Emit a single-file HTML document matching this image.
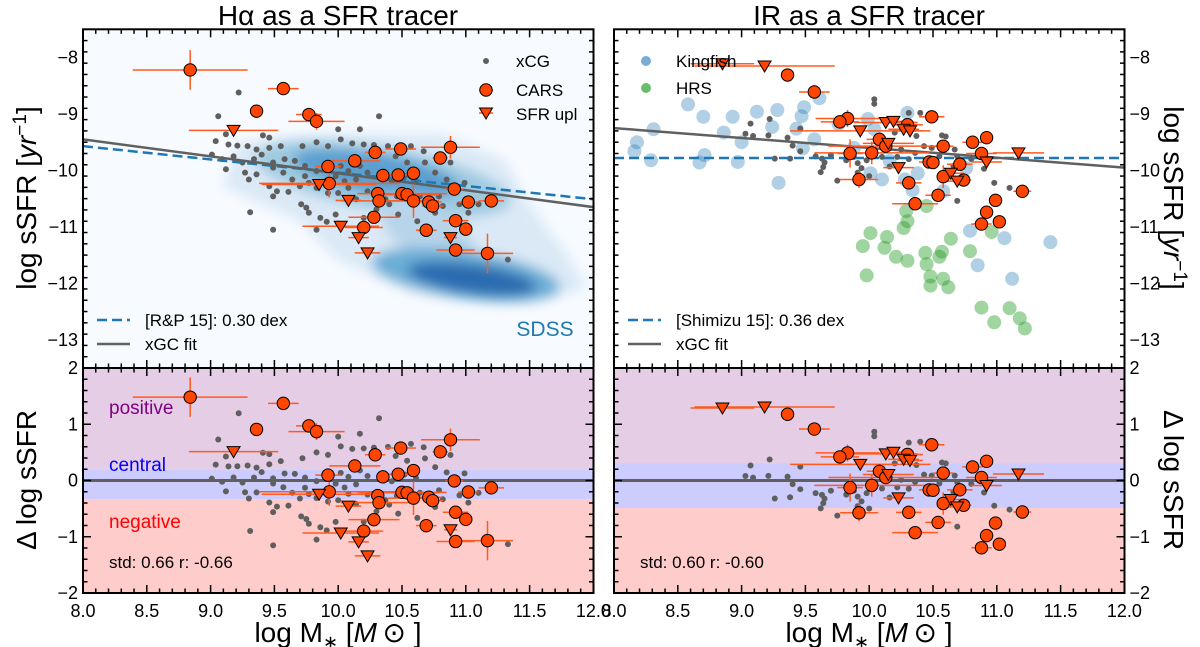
<!DOCTYPE html>
<html><head><meta charset="utf-8"><style>
body{margin:0;background:#fff;}
svg{display:block;font-family:"Liberation Sans","DejaVu Sans",sans-serif;}
</style></head><body>
<svg id="chart" width="1200" height="647" viewBox="0 0 1200 647">
<defs>
<filter id="blur" x="-50%" y="-50%" width="200%" height="200%"><feGaussianBlur stdDeviation="6"/></filter>
<clipPath id="clipTL"><rect x="83" y="29.3" width="510" height="338.7"/></clipPath>
<clipPath id="clipTR"><rect x="614" y="29.3" width="511" height="338.7"/></clipPath>
<clipPath id="clipBL"><rect x="83" y="368" width="510" height="225"/></clipPath>
<clipPath id="clipBR"><rect x="614" y="368" width="511" height="225"/></clipPath>
</defs>
</svg>
<script>
// ---------- data ----------
const xTicks = [8.0, 8.5, 9.0, 9.5, 10.0, 10.5, 11.0, 11.5, 12.0];
const yTicksTop = [-8, -9, -10, -11, -12, -13];
const yTicksBot = [2, 1, 0, -1, -2];
// fits: [value at logM=8, slope]
const fitHa = [-9.45, -0.30];
const refHa = [-9.57, -0.235];
const fitIR = [-9.25, -0.175];
const refIR = [-9.78, 0.0];
const bandHa = [0.2, -0.33];
const bandIR = [0.31, -0.49];
// Halpha CARS detections
const haCarsM = [8.84,9.57,9.36,9.77,9.83,10.88,10.49,10.29,10.80,10.13,9.92,10.59,10.47,10.35,9.93,10.91,10.31,10.50,10.54,10.32,10.59,10.71,10.74,11.02,11.20,10.28,10.92,10.20,11.00,10.69,10.92,11.17];
const haCarsS = [-8.22,-8.55,-8.95,-9.01,-9.13,-9.59,-9.62,-9.68,-9.78,-9.83,-9.93,-10.05,-10.08,-10.09,-10.23,-10.33,-10.41,-10.41,-10.43,-10.54,-10.54,-10.56,-10.63,-10.56,-10.54,-10.83,-10.89,-11.01,-11.04,-11.06,-11.41,-11.47];
const haCarsXe = [0.45,0.12,0.02,0.1,0.22,0.23,0.12,0.08,0.06,0.2,0.1,0.05,0.12,0.05,0.55,0.07,0.05,0.35,0.25,0.3,0.2,0.1,0.08,0.08,0.1,0.2,0.1,0.15,0.03,0.08,0.15,0.2];
const haCarsYe = [0.35,0.05,0.05,0.05,0.15,0.2,0.1,0.05,0.05,0.05,0.1,0.05,0.05,0.05,0.25,0.05,0.05,0.1,0.05,0.05,0.3,0.05,0.1,0.1,0.1,0.05,0.05,0.05,0.05,0.1,0.05,0.35];
const haUplM = [9.18,9.85,10.08,10.02,10.16,10.23,10.88];
const haUplS = [-9.29,-10.25,-10.53,-10.99,-11.19,-11.46,-11.19];
const haUplXe = [0.35,0.45,0.1,0.3,0.08,0.1,0.05];
// Halpha xCG
const haXcgM = [9.22,9.06,10.32,10.00,10.17,9.12,9.41,9.46,9.04,9.14,9.21,9.29,9.36,9.46,9.55,9.72,9.83,9.92,10.02,10.11,10.20,10.28,10.39,10.57,10.67,10.45,10.54,10.68,10.88,9.01,9.09,9.18,9.25,9.34,9.40,9.49,9.58,9.66,9.74,9.83,10.02,10.08,10.17,9.12,9.27,9.36,9.49,9.57,9.64,9.74,9.77,9.98,10.05,10.14,10.23,10.42,10.52,10.61,10.76,10.85,10.99,9.30,9.46,9.52,9.49,9.61,9.70,9.83,9.92,10.00,10.08,10.14,10.23,10.37,10.40,10.46,10.64,10.79,10.82,10.95,11.10,9.71,9.75,9.77,9.86,9.91,9.98,10.00,9.31,9.49,9.83,10.47,10.62,11.02,11.33,10.76,10.30,10.20];
const haXcgS = [-8.62,-9.04,-9.04,-9.27,-9.27,-9.36,-9.38,-9.42,-9.48,-9.54,-9.56,-9.57,-9.63,-9.60,-9.57,-9.57,-9.50,-9.57,-9.45,-9.52,-9.54,-9.55,-9.57,-9.57,-9.66,-9.75,-9.86,-9.86,-9.86,-9.72,-9.80,-9.75,-9.86,-9.80,-9.72,-9.86,-9.80,-9.83,-9.92,-10.01,-9.92,-10.01,-9.92,-9.98,-10.04,-10.07,-9.95,-10.04,-10.16,-10.10,-10.22,-10.10,-10.19,-10.16,-10.04,-10.19,-10.10,-10.19,-10.04,-10.16,-10.22,-10.16,-10.28,-10.37,-10.46,-10.38,-10.28,-10.31,-10.40,-10.40,-10.31,-10.51,-10.37,-10.51,-10.60,-10.46,-10.46,-10.46,-10.63,-10.60,-10.60,-10.60,-10.66,-10.75,-10.84,-10.91,-10.78,-10.94,-10.74,-11.05,-11.05,-10.78,-10.90,-10.75,-11.58,-10.75,-10.69,-10.84];
// IR CARS
const irCarsM = [9.36,9.57,9.83,9.77,10.49,10.30,10.92,10.81,10.08,10.58,10.13,9.85,10.02,10.88,10.47,10.50,10.71,10.58,10.74,9.92,10.31,11.20,10.54,10.99,10.36,10.92,10.88,11.02];
const irCarsS = [-8.31,-8.61,-9.08,-9.14,-9.05,-9.19,-9.42,-9.50,-9.45,-9.57,-9.57,-9.70,-9.69,-9.70,-9.85,-9.86,-9.89,-10.11,-10.17,-10.16,-10.22,-10.37,-10.44,-10.53,-10.59,-10.74,-10.95,-10.91];
const irCarsXe = [0.02,0.12,0.25,0.15,0.1,0.12,0.05,0.08,0.1,0.08,0.45,0.1,0.45,0.12,0.08,0.05,0.1,0.05,0.06,0.15,0.1,0.07,0.1,0.03,0.18,0.05,0.08,0.05];
const irCarsYe = [0.03,0.05,0.15,0.05,0.05,0.05,0.05,0.05,0.1,0.05,0.05,0.25,0.2,0.05,0.1,0.05,0.05,0.2,0.1,0.15,0.05,0.05,0.1,0.05,0.08,0.05,0.05,0.1];
const irUplM = [8.85,9.18,9.93,10.13,10.19,10.27,10.32,10.15,10.23,10.64,10.69,10.92,11.17];
const irUplS = [-8.11,-8.15,-9.30,-9.15,-9.13,-9.27,-9.30,-9.52,-9.95,-10.05,-10.19,-9.85,-9.69];
const irUplXe = [0.25,0.55,0.55,0.25,0.1,0.12,0.1,0.2,0.12,0.1,0.1,0.12,0.2];
const irXcgM = [9.07,9.22,9.03,9.09,9.21,9.36,9.46,9.40,9.26,9.38,9.46,9.58,9.63,9.65,9.64,9.62,9.70,9.75,9.82,9.88,9.91,9.94,9.98,10.04,10.04,10.10,10.16,10.22,10.20,10.31,10.40,10.37,10.43,10.49,10.55,10.57,10.60,10.67,10.69,10.69,10.66,10.80,10.90,10.98,11.10,10.31,10.36,9.91,10.00,10.25];
const irXcgS = [-9.17,-9.09,-9.35,-9.39,-9.38,-9.42,-9.26,-9.56,-9.79,-9.79,-9.66,-9.75,-9.79,-9.86,-9.94,-10.03,-9.73,-10.18,-9.82,-9.76,-9.87,-9.96,-9.82,-8.74,-8.82,-9.76,-9.93,-9.76,-9.33,-8.98,-8.98,-9.39,-9.57,-9.60,-9.75,-9.38,-9.40,-9.63,-9.75,-10.54,-9.92,-9.80,-9.97,-10.22,-10.31,-9.80,-9.69,-10.04,-10.10,-9.63];
const kingM = [8.58,8.70,8.93,9.12,9.28,9.49,9.61,9.47,8.31,8.18,8.16,8.29,8.71,8.67,8.86,9.00,8.97,9.24,9.43,9.57,9.48,9.29,9.76,9.99,10.04,10.30,10.01,10.10,10.28,10.34,10.38,10.58,10.79,10.76,11.06,11.42,10.85,11.12,9.88,10.16];
const kingS = [-8.83,-9.05,-9.05,-8.96,-8.93,-8.88,-8.72,-9.04,-9.27,-9.50,-9.66,-9.82,-9.73,-9.86,-9.33,-9.50,-9.85,-9.23,-9.26,-9.45,-9.61,-10.22,-9.18,-9.09,-9.27,-8.98,-10.05,-10.16,-10.16,-10.35,-10.05,-10.37,-11.07,-9.96,-11.20,-11.27,-11.68,-11.92,-9.60,-9.83];
const hrsM = [10.29,10.45,10.30,10.27,10.01,10.14,9.95,10.12,10.21,10.30,10.44,10.57,10.55,10.64,10.79,10.45,10.48,10.58,10.48,10.62,9.98,10.96,10.88,11.10,10.98,11.18,11.22];
const hrsS = [-10.72,-10.63,-10.90,-11.02,-11.11,-11.18,-11.34,-11.37,-11.53,-11.60,-11.46,-11.44,-11.53,-11.21,-11.43,-11.66,-11.88,-11.92,-12.04,-12.07,-11.86,-11.09,-12.43,-12.44,-12.69,-12.62,-12.80];

// ---------- helpers ----------
const NS = "http://www.w3.org/2000/svg";
const svg = document.getElementById('chart');
function el(tag, attrs, parent, text){
  const e = document.createElementNS(NS, tag);
  for (const k in attrs) e.setAttribute(k, attrs[k]);
  if (text !== undefined) e.textContent = text;
  (parent || svg).appendChild(e);
  return e;
}
const TOP=29.3, MID=368, BOT=593;
function xs(x0){ return m => x0 + (m-8)*127.6; }
function yTop(s){ return TOP + (-7.5 - s)*56.45; }
function yBot(d){ return MID + (2 - d)*56.25; }
function fitVal(f, m){ return f[0] + f[1]*(m-8); }
const ORANGE = '#ff4500', ERR = '#ff5a1f', GRAY = '#5f5f5f';

function drawCircle(g, x, y, name){
  const c = el('circle', {cx:x, cy:y, r:6.2, fill:ORANGE, stroke:'#000', 'stroke-width':1}, g);
  
  
}
function drawTri(g, x, y, name){
  const p = el('path', {d:`M${x-6.5},${y-5} L${x+6.5},${y-5} L${x},${y+6} Z`, fill:ORANGE, stroke:'#000', 'stroke-width':1}, g);
  
  
}
function errH(g, x1, x2, y){ el('line',{x1:x1,x2:x2,y1:y,y2:y,stroke:ERR,'stroke-width':1.5},g); }
function errV(g, x, y1, y2){ el('line',{x1:x,x2:x,y1:y1,y2:y2,stroke:ERR,'stroke-width':1.5},g); }

function panel(cfg){
  const X = xs(cfg.x0), W = 510.5, x1 = cfg.x0 + W;
  const g = el('g', {});  
  const top = el('g', {'clip-path':`url(#${cfg.clipT})`}, g);
  const bot = el('g', {'clip-path':`url(#${cfg.clipB})`}, g);
  const b1 = el('rect',{x:cfg.x0,y:MID,width:W,height:yBot(cfg.band[0])-MID,fill:'#e5cde6'},bot);
   
  const b2 = el('rect',{x:cfg.x0,y:yBot(cfg.band[0]),width:W,height:yBot(cfg.band[1])-yBot(cfg.band[0]),fill:'#ccccff'},bot);
   
  const b3 = el('rect',{x:cfg.x0,y:yBot(cfg.band[1]),width:W,height:BOT-yBot(cfg.band[1]),fill:'#ffcccc'},bot);
   
  const zl = el('line',{x1:cfg.x0,x2:x1,y1:yBot(0),y2:yBot(0),stroke:'#606060','stroke-width':3},bot);
   
  if (cfg.sdss){
    el('rect',{x:83,y:TOP,width:510,height:338.7,fill:'#f7fbff'},top);
    const sd = el('g',{filter:'url(#blur)'},top);
     
    const env = [[9.2,-9.5],[9.9,-9.35],[10.8,-9.35],[11.3,-9.8],[11.5,-10.6],[11.8,-11.5],[11.95,-12.1],[11.5,-12.35],[10.6,-12.2],[10.0,-11.6],[9.7,-10.9],[9.1,-10.3]];
    el('path',{d:'M'+env.map(p=>X(p[0])+','+yTop(p[1])).join(' L')+' Z',fill:'#dbe9f6'},sd);
    el('ellipse',{cx:X(10.35),cy:yTop(-10.15),rx:130,ry:32,fill:'#9ecae1',transform:`rotate(10 ${X(10.35)} ${yTop(-10.15)})`},sd);
    el('ellipse',{cx:X(10.3),cy:yTop(-10.05),rx:85,ry:20,fill:'#5a9fd0',transform:`rotate(10 ${X(10.3)} ${yTop(-10.05)})`},sd);
    el('ellipse',{cx:X(10.7),cy:yTop(-11.1),rx:55,ry:28,fill:'#b7d4ea',transform:`rotate(35 ${X(10.7)} ${yTop(-11.1)})`},sd);
    el('ellipse',{cx:X(11.0),cy:yTop(-11.85),rx:95,ry:24,fill:'#6baed6',transform:`rotate(8 ${X(11.0)} ${yTop(-11.85)})`},sd);
    el('ellipse',{cx:X(11.05),cy:yTop(-11.92),rx:65,ry:15,fill:'#2b6cb0',transform:`rotate(8 ${X(11.05)} ${yTop(-11.92)})`},sd);
  }
  if (cfg.king){
    cfg.king[0].forEach((m,i)=>{ const c=el('circle',{cx:X(m),cy:yTop(cfg.king[1][i]),r:7,fill:'#1f77b4','fill-opacity':0.35},top);
        });
    cfg.hrs[0].forEach((m,i)=>{ const c=el('circle',{cx:X(m),cy:yTop(cfg.hrs[1][i]),r:7,fill:'#2ca02c','fill-opacity':0.45},top);
        });
  }
  cfg.xcg[0].forEach((m,i)=>{
    const s = cfg.xcg[1][i];
    const a=el('circle',{cx:X(m),cy:yTop(s),r:3,fill:GRAY},top);
     
    const b=el('circle',{cx:X(m),cy:yBot(s-fitVal(cfg.fit,m)),r:3,fill:GRAY},bot);
     
  });
  const rl = el('line',{x1:X(8),x2:X(12),y1:yTop(fitVal(cfg.ref,8)),y2:yTop(fitVal(cfg.ref,12)),stroke:'#1f77b4','stroke-width':2.5,'stroke-dasharray':'10,5'},top);
   
  const fl = el('line',{x1:X(8),x2:X(12),y1:yTop(fitVal(cfg.fit,8)),y2:yTop(fitVal(cfg.fit,12)),stroke:'#606060','stroke-width':2.5},top);
   
  const layers = [[top, s=>yTop(s), (m,s)=>s], [bot, d=>yBot(d), (m,s)=>s-fitVal(cfg.fit,m)]];
  layers.forEach(([lg, Y, tf])=>{
    cfg.cars[0].forEach((m,i)=>{ const v=tf(m,cfg.cars[1][i]); errH(lg,X(m-cfg.cars[2][i]),X(m+cfg.cars[2][i]),Y(v)); errV(lg,X(m),Y(v+cfg.cars[3][i]),Y(v-cfg.cars[3][i])); });
    cfg.upl[0].forEach((m,i)=>{ const v=tf(m,cfg.upl[1][i]); errH(lg,X(m-cfg.upl[2][i]),X(m+cfg.upl[2][i]),Y(v)); });
    cfg.cars[0].forEach((m,i)=>{ drawCircle(lg,X(m),Y(tf(m,cfg.cars[1][i])),'cars-point'); });
    cfg.upl[0].forEach((m,i)=>{ drawTri(lg,X(m),Y(tf(m,cfg.upl[1][i])),'sfr-upper-limit'); });
  });
  [[TOP,MID],[MID,BOT]].forEach(([a,b])=>{
    el('rect',{x:cfg.x0,y:a,width:W,height:b-a,fill:'none',stroke:'#000','stroke-width':2},g);
  });
  const tk = el('g',{stroke:'#000','stroke-width':1.5},g);
  for (let k=0;k<=40;k++){
    const m = 8 + k*0.1, x = X(m), L = (k%5===0)?8:4.5;
    [TOP,MID].forEach(yy=>el('line',{x1:x,x2:x,y1:yy,y2:yy+L},tk));
    [MID,BOT].forEach(yy=>el('line',{x1:x,x2:x,y1:yy,y2:yy-L},tk));
  }
  for (let k=0;k<=30;k++){ const s=-7.5-k*0.2, y=yTop(s); const maj=Math.abs(s-Math.round(s))<0.01; const L=maj?8:4.5;
    el('line',{x1:cfg.x0,x2:cfg.x0+L,y1:y,y2:y},tk); el('line',{x1:x1,x2:x1-L,y1:y,y2:y},tk); }
  for (let k=0;k<=20;k++){ const d=2-k*0.2, y=yBot(d); const maj=Math.abs(d-Math.round(d))<0.01; const L=maj?8:4.5;
    el('line',{x1:cfg.x0,x2:cfg.x0+L,y1:y,y2:y},tk); el('line',{x1:x1,x2:x1-L,y1:y,y2:y},tk); }
  xTicks.forEach(t=>{ const e=el('text',{x:X(t),y:617,'font-size':18,'text-anchor':'middle'},g,t.toFixed(1));
      });
  const lx = cfg.right ? x1+5 : cfg.x0-5, anc = cfg.right ? 'start':'end';
  yTicksTop.forEach(t=>{ const e=el('text',{x:lx,y:yTop(t)+6,'font-size':18,'text-anchor':anc},g,'\u2212'+Math.abs(t));
      });
  yTicksBot.forEach(t=>{ const e=el('text',{x:lx,y:yBot(t)+6,'font-size':18,'text-anchor':anc},g,(t<0?'\u2212':'')+Math.abs(t));
      });
  return {g, X, x1};
}

const L = panel({name:'halpha-panel', x0:83, clipT:'clipTL', clipB:'clipBL', band:bandHa, fit:fitHa, ref:refHa, sdss:true,
  xcg:[haXcgM,haXcgS], cars:[haCarsM,haCarsS,haCarsXe,haCarsYe], upl:[haUplM,haUplS,haUplXe], right:false});
const R = panel({name:'ir-panel', x0:614, clipT:'clipTR', clipB:'clipBR', band:bandIR, fit:fitIR, ref:refIR,
  king:[kingM,kingS], hrs:[hrsM,hrsS],
  xcg:[irXcgM,irXcgS], cars:[irCarsM,irCarsS,irCarsXe,irCarsYe], upl:[irUplM,irUplS,irUplXe], right:true});

function txt(attrs, s, name){ const e=el('text',attrs,svg,s);   return e; }
txt({x:338,y:25,'font-size':28,'text-anchor':'middle'},'H\u03b1 as a SFR tracer','left-title');
txt({x:869,y:25,'font-size':28,'text-anchor':'middle'},'IR as a SFR tracer','right-title');
const yl = txt({x:0,y:0,'font-size':28,'text-anchor':'middle',transform:'translate(36,198) rotate(-90)'},'','y-axis-title-left');
yl.innerHTML = 'log sSFR [<tspan font-style="italic">yr</tspan><tspan dy="-10" font-size="19">\u22121</tspan><tspan dy="10">]</tspan>';
const yr = txt({x:0,y:0,'font-size':28,'text-anchor':'middle',transform:'translate(1164,198) rotate(90)'},'','y-axis-title-right');
yr.innerHTML = 'log sSFR [<tspan font-style="italic">yr</tspan><tspan dy="-10" font-size="19">\u22121</tspan><tspan dy="10">]</tspan>';
txt({x:0,y:0,'font-size':28,'text-anchor':'middle',transform:'translate(36,480) rotate(-90)'},'\u0394 log sSFR','delta-axis-title-left');
txt({x:0,y:0,'font-size':28,'text-anchor':'middle',transform:'translate(1164,480) rotate(90)'},'\u0394 log sSFR','delta-axis-title-right');
[338,869].forEach((cx,i)=>{
  const t = txt({x:cx,y:642,'font-size':28,'text-anchor':'middle'},'', i?'x-axis-title-right':'x-axis-title-left');
  t.innerHTML = 'log M<tspan font-size="18" dy="6">\u2217</tspan><tspan dy="-6"> [</tspan><tspan font-style="italic">M</tspan>\u2009\u2299 ]';
});
const lg1 = el('g',{});  
el('circle',{cx:486,cy:61,r:3,fill:GRAY},lg1);
el('line',{x1:486,x2:486,y1:84,y2:96,stroke:ERR,'stroke-width':1.5},lg1); el('line',{x1:479,x2:493,y1:90,y2:90,stroke:ERR,'stroke-width':1.5},lg1);
drawCircle(lg1,486,90,'legend-cars-marker');
el('line',{x1:479,x2:493,y1:113,y2:113,stroke:ERR,'stroke-width':1.5},lg1);
drawTri(lg1,486,113,'legend-upl-marker');
el('text',{x:516,y:67,'font-size':17},lg1,'xCG');
el('text',{x:516,y:96,'font-size':17},lg1,'CARS');
el('text',{x:516,y:120,'font-size':17},lg1,'SFR upl');
const lg2 = el('g',{});  
el('line',{x1:97,x2:130,y1:320,y2:320,stroke:'#1f77b4','stroke-width':2.5,'stroke-dasharray':'10,5'},lg2);
el('line',{x1:97,x2:130,y1:344,y2:344,stroke:'#606060','stroke-width':2.5},lg2);
el('text',{x:145,y:326,'font-size':17},lg2,'[R&P 15]: 0.30 dex');
el('text',{x:145,y:350,'font-size':17},lg2,'xGC fit');
txt({x:545,y:336,'font-size':21,'text-anchor':'middle',fill:'#1f77b4'},'SDSS','sdss-label');
const lg3 = el('g',{});  
el('circle',{cx:646,cy:61,r:5,fill:'#1f77b4','fill-opacity':0.6},lg3);
el('circle',{cx:646,cy:88,r:5,fill:'#2ca02c','fill-opacity':0.7},lg3);
el('text',{x:676,y:67,'font-size':17},lg3,'Kingfish');
el('text',{x:676,y:94,'font-size':17},lg3,'HRS');
const lg4 = el('g',{});  
el('line',{x1:628,x2:661,y1:320,y2:320,stroke:'#1f77b4','stroke-width':2.5,'stroke-dasharray':'10,5'},lg4);
el('line',{x1:628,x2:661,y1:344,y2:344,stroke:'#606060','stroke-width':2.5},lg4);
el('text',{x:676,y:326,'font-size':17},lg4,'[Shimizu 15]: 0.36 dex');
el('text',{x:676,y:350,'font-size':17},lg4,'xGC fit');
txt({x:109,y:414,'font-size':19,fill:'#800080'},'positive','positive-label');
txt({x:109,y:471,'font-size':19,fill:'#0000ff'},'central','central-label');
txt({x:109,y:528,'font-size':19,fill:'#ff0000'},'negative','negative-label');
txt({x:109,y:568,'font-size':17},'std: 0.66 r: -0.66','stats-left');
txt({x:640,y:568,'font-size':17},'std: 0.60 r: -0.60','stats-right');
</script>
</body></html>
